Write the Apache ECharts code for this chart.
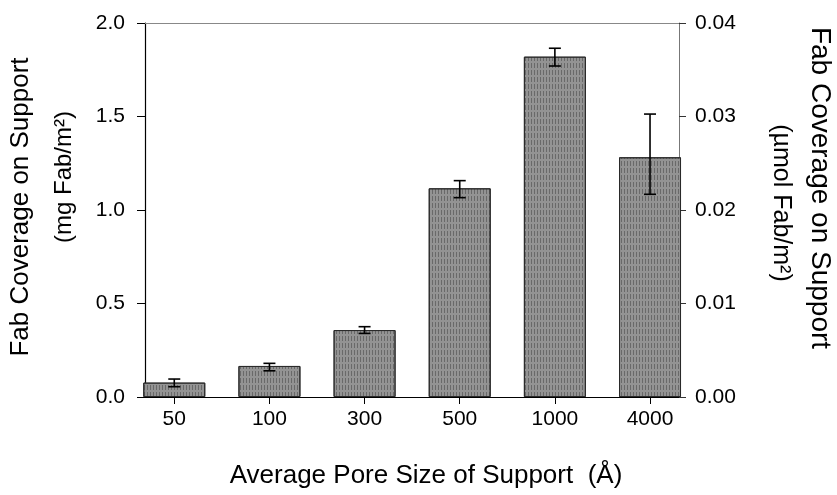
<!DOCTYPE html>
<html lang="en">
<head>
    <meta charset="UTF-8"/>
    <script src="https://cdn.jsdelivr.net/npm/echarts@6/dist/echarts.min.js"></script>
    <title>Fab Coverage vs Pore Size</title>
    <style>
        html, body { margin: 0; padding: 0; background: #fff; }
        #chart { width: 837px; height: 495px; }
    </style>
</head>
<body>
<div id="chart"></div>
<script type="text/javascript">
    // data
    var poreSizes = ['50', '100', '300', '500', '1000', '4000'];
    var coverage = [0.077, 0.166, 0.358, 1.116, 1.820, 1.282];
    var errLow = [0.055, 0.140, 0.340, 1.066, 1.770, 1.084];
    var errHigh = [0.096, 0.180, 0.376, 1.157, 1.865, 1.513];
    // axis ranges: [min, max, interval]
    var massAxis = [0, 2.0, 0.5];
    var molAxis = [0, 0.04, 0.01];

    var FONT = 'Liberation Sans, Arial, Helvetica, sans-serif';

    var errData = [];
    for (var i = 0; i < poreSizes.length; i++) {
        errData.push([i, errLow[i], errHigh[i]]);
    }

    function renderErr(params, api) {
        var x = api.value(0);
        var pLo = api.coord([x, api.value(1)]);
        var pHi = api.coord([x, api.value(2)]);
        var w = 6;
        var st = { stroke: '#000', lineWidth: 1.6 };
        return {
            type: 'group',
            children: [
                { type: 'line', shape: { x1: pHi[0], y1: pHi[1], x2: pLo[0], y2: pLo[1] }, style: st },
                { type: 'line', shape: { x1: pHi[0] - w, y1: pHi[1], x2: pHi[0] + w, y2: pHi[1] }, style: st },
                { type: 'line', shape: { x1: pLo[0] - w, y1: pLo[1], x2: pLo[0] + w, y2: pLo[1] }, style: st }
            ]
        };
    }

    var myChart = echarts.init(document.getElementById('chart'));
    var option = {
        backgroundColor: '#fff',
        animation: false,
        textStyle: { fontFamily: FONT },
        grid: [
            // bars (category bands run a little past the frame)
            { left: 126.7, right: 139.4, top: 23, bottom: 98 },
            // frame with the two value axes
            { left: 145, right: 158, top: 23, bottom: 98 }
        ],
        xAxis: [
            {
                type: 'category', gridIndex: 0, data: poreSizes,
                axisLine: { show: false },
                axisTick: { show: true, alignWithLabel: true, length: 7, lineStyle: { color: '#000' } },
                axisLabel: { fontSize: 21, color: '#000', margin: 12, fontFamily: FONT }
            },
            {
                type: 'value', gridIndex: 1, min: 0, max: 1, position: 'bottom',
                axisLine: { show: true, onZero: false, lineStyle: { color: '#000', width: 1.2 } },
                axisTick: { show: false }, axisLabel: { show: false }, splitLine: { show: false }
            },
            {
                type: 'value', gridIndex: 1, min: 0, max: 1, position: 'top',
                axisLine: { show: true, onZero: false, lineStyle: { color: '#888', width: 1 } },
                axisTick: { show: false }, axisLabel: { show: false }, splitLine: { show: false }
            }
        ],
        yAxis: [
            { type: 'value', gridIndex: 0, min: massAxis[0], max: massAxis[1], show: false },
            {
                type: 'value', gridIndex: 1, position: 'left',
                min: massAxis[0], max: massAxis[1], interval: massAxis[2],
                axisLine: { show: true, onZero: false, lineStyle: { color: '#000', width: 1.2 } },
                axisTick: { show: true, length: 8, lineStyle: { color: '#000' } },
                axisLabel: { fontSize: 21, color: '#000', margin: 20, fontFamily: FONT,
                    formatter: function (v) { return v.toFixed(1); } },
                splitLine: { show: false }
            },
            {
                type: 'value', gridIndex: 1, position: 'right',
                min: molAxis[0], max: molAxis[1], interval: molAxis[2],
                axisLine: { show: true, onZero: false, lineStyle: { color: '#777', width: 1 } },
                axisTick: { show: true, length: 7, lineStyle: { color: '#333' } },
                axisLabel: { fontSize: 21, color: '#000', margin: 16, fontFamily: FONT,
                    formatter: function (v) { return v.toFixed(2); } },
                splitLine: { show: false }
            }
        ],
        series: [
            {
                type: 'bar', xAxisIndex: 0, yAxisIndex: 0,
                data: coverage, barWidth: 62,
                itemStyle: {
                    color: '#939393', borderColor: '#2a2a2a', borderWidth: 1,
                    decal: {
                        symbol: 'rect', symbolSize: 1, color: 'rgba(30,30,30,0.35)',
                        dashArrayX: [[1, 2]], dashArrayY: [5, 2], rotation: 0
                    }
                },
                z: 3
            },
            {
                type: 'custom', xAxisIndex: 0, yAxisIndex: 0,
                data: errData, renderItem: renderErr, z: 4
            }
        ],
        graphic: [
            { type: 'text', x: 21, y: 207, rotation: Math.PI / 2,
              style: { text: 'Fab Coverage on Support', font: '26px ' + FONT, fill: '#000', textAlign: 'center', textVerticalAlign: 'middle' } },
            { type: 'text', x: 64, y: 177, rotation: Math.PI / 2,
              style: { text: '(mg Fab/m²)', font: '24px ' + FONT, fill: '#000', textAlign: 'center', textVerticalAlign: 'middle' } },
            { type: 'text', x: 820, y: 188, rotation: -Math.PI / 2,
              style: { text: 'Fab Coverage on Support', font: '28px ' + FONT, fill: '#000', textAlign: 'center', textVerticalAlign: 'middle' } },
            { type: 'text', x: 781, y: 203, rotation: -Math.PI / 2,
              style: { text: '(µmol Fab/m²)', font: '25px ' + FONT, fill: '#000', textAlign: 'center', textVerticalAlign: 'middle' } },
            { type: 'text', x: 426, y: 476,
              style: { text: 'Average Pore Size of Support  (Å)', font: '26px ' + FONT, fill: '#000', textAlign: 'center', textVerticalAlign: 'middle' } }
        ]
    };
    myChart.setOption(option);
</script>
</body>
</html>
